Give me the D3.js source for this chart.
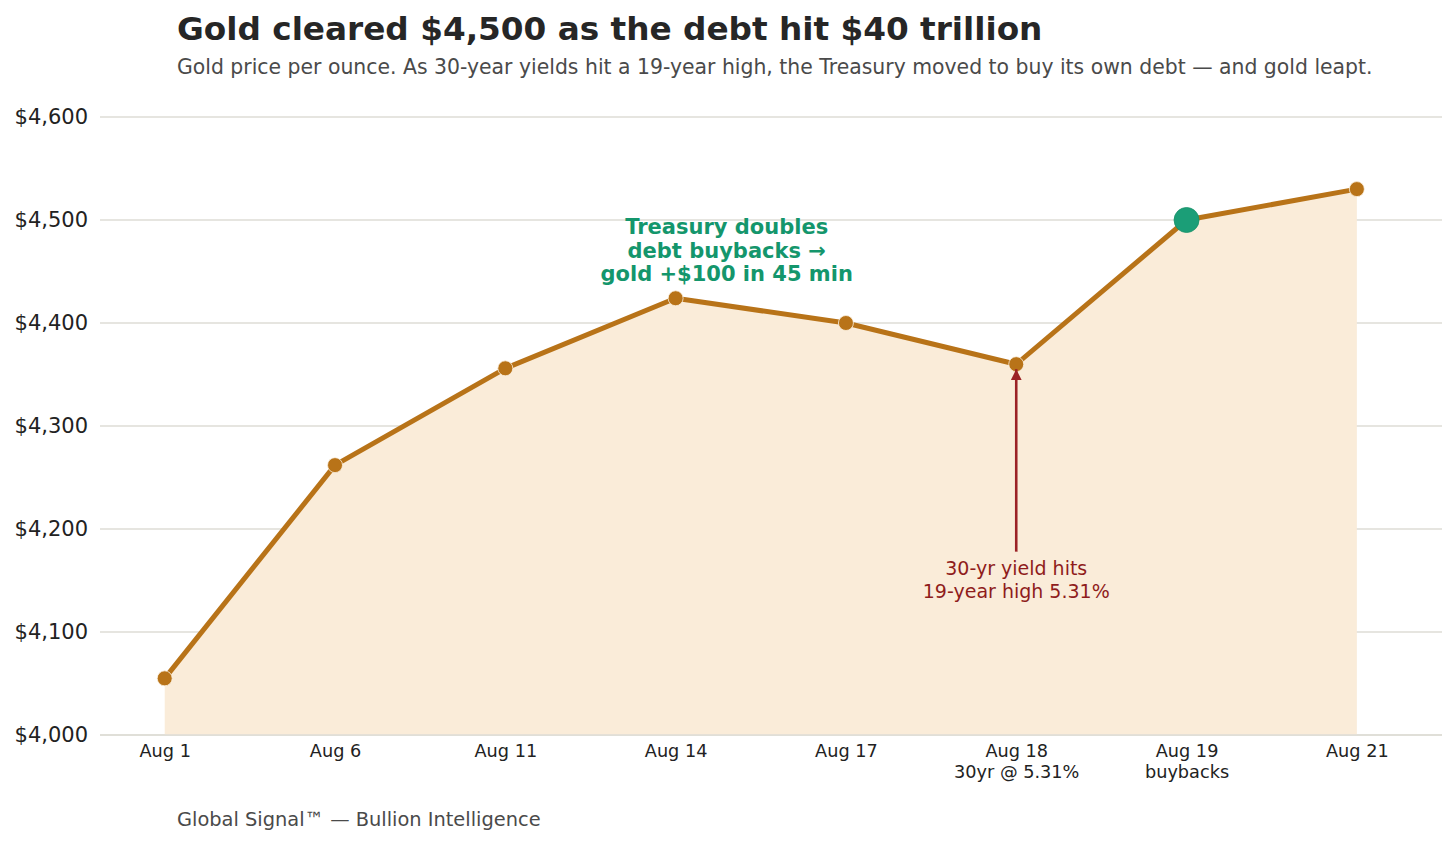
<!DOCTYPE html>
<html>
<head>
<meta charset="utf-8">
<script src="https://cdn.jsdelivr.net/npm/d3@7"></script>
<style>
  html, body { margin: 0; padding: 0; background: #fff; }
  svg { display: block; font-family: "DejaVu Sans", sans-serif; }
  svg text { font-family: "DejaVu Sans", sans-serif; }
</style>
</head>
<body>
<svg id="chart" width="1456" height="844"></svg>
<script>
// gold price per ounce, August
var dates = ["Aug 1", "Aug 6", "Aug 11", "Aug 14", "Aug 17", "Aug 18", "Aug 19", "Aug 21"];
var dateNotes = ["", "", "", "", "", "30yr @ 5.31%", "buybacks", ""];
var prices = [4055, 4262, 4356, 4424, 4400, 4360, 4500, 4530];
var yTicks = [4000, 4100, 4200, 4300, 4400, 4500, 4600];
var highlightIndex = 6;

var svg = d3.select("#chart");

var x = d3.scaleLinear().domain([-0.38, 7.5]).range([100, 1442]);
var y = d3.scaleLinear().domain([4000, 4600]).range([735, 117]);

var fmt = function(v) { return "$" + d3.format(",")(v); };

// gridlines
svg.append("g")
  .selectAll("line")
  .data(yTicks)
  .enter().append("line")
    .attr("x1", x.range()[0])
    .attr("x2", x.range()[1])
    .attr("y1", function(d) { return y(d); })
    .attr("y2", function(d) { return y(d); })
    .attr("stroke", "#dedcd6")
    .attr("stroke-width", 1.3);

// y labels
var yAxis = svg.append("g")
    .attr("transform", "translate(100,0)")
    .call(d3.axisLeft(y).tickValues(yTicks).tickFormat(fmt).tickSize(0).tickPadding(12));
yAxis.attr("font-family", null).attr("font-size", null);
yAxis.select(".domain").remove();
yAxis.selectAll("text")
    .attr("font-size", 21)
    .attr("fill", "#222");

var pts = prices.map(function(p, i) { return { i: i, v: p }; });

// shaded area under the line
svg.append("path")
    .datum(pts)
    .attr("fill", "#faecd9")
    .attr("d", d3.area()
      .x(function(d) { return x(d.i); })
      .y0(y(4000))
      .y1(function(d) { return y(d.v); }));

// baseline
svg.append("line")
    .attr("x1", x.range()[0]).attr("x2", x.range()[1])
    .attr("y1", y(4000)).attr("y2", y(4000))
    .attr("stroke", "#dedcd6")
    .attr("stroke-width", 1.3);

// x labels
var xAxis = svg.append("g")
    .attr("transform", "translate(0," + y(4000) + ")")
    .call(d3.axisBottom(x).tickValues(d3.range(dates.length))
      .tickFormat(function(d) { return dates[d]; }).tickSize(0).tickPadding(9));
xAxis.attr("font-family", null).attr("font-size", null);
xAxis.select(".domain").remove();
xAxis.selectAll("text")
    .attr("font-size", 17.7)
    .attr("fill", "#222");
xAxis.selectAll(".tick").filter(function(d) { return dateNotes[d] !== ""; })
  .append("text")
    .attr("y", 30.5)
    .attr("dy", "0.71em")
    .attr("text-anchor", "middle")
    .attr("font-size", 17.7)
    .attr("fill", "#222")
    .text(function(d) { return dateNotes[d]; });

// price line
svg.append("path")
    .datum(pts)
    .attr("fill", "none")
    .attr("stroke", "#b87318")
    .attr("stroke-width", 5)
    .attr("stroke-linejoin", "round")
    .attr("d", d3.line()
      .x(function(d) { return x(d.i); })
      .y(function(d) { return y(d.v); }));

svg.append("g")
  .selectAll("circle")
  .data(pts)
  .enter().append("circle")
    .attr("cx", function(d) { return x(d.i); })
    .attr("cy", function(d) { return y(d.v); })
    .attr("r", function(d) { return d.i === highlightIndex ? 12.5 : 7.5; })
    .attr("fill", function(d) { return d.i === highlightIndex ? "#1b9e77" : "#b87318"; })
    .attr("stroke", function(d) { return d.i === highlightIndex ? "#189068" : "#fbf1e2"; })
    .attr("stroke-width", 0.8);

// buyback annotation
var green = svg.append("text")
    .attr("x", x(3.3))
    .attr("text-anchor", "middle")
    .attr("font-size", 21)
    .attr("font-weight", "bold")
    .attr("fill", "#14966c");
["Treasury doubles", "debt buybacks \u2192", "gold +$100 in 45 min"].forEach(function(t, k) {
  green.append("tspan")
    .attr("x", x(3.3))
    .attr("y", y(4470) + (k - 1) * 23.5 + 7)
    .text(t);
});

// yield annotation
svg.append("defs").append("marker")
    .attr("id", "arrow")
    .attr("viewBox", "0 0 10 10")
    .attr("refX", 10).attr("refY", 5)
    .attr("markerWidth", 4.2).attr("markerHeight", 4.2)
    .attr("orient", "auto")
  .append("path")
    .attr("d", "M0,0L10,5L0,10z")
    .attr("fill", "#9b2226");

svg.append("line")
    .attr("x1", x(5)).attr("x2", x(5))
    .attr("y1", y(4178)).attr("y2", y(4360) + 5)
    .attr("stroke", "#9b2226")
    .attr("stroke-width", 2.6)
    .attr("marker-end", "url(#arrow)");

var red = svg.append("text")
    .attr("text-anchor", "middle")
    .attr("font-size", 19)
    .attr("fill", "#8f1c1c");
["30-yr yield hits", "19-year high 5.31%"].forEach(function(t, k) {
  red.append("tspan")
    .attr("x", x(5))
    .attr("y", y(4150) + (k - 0.5) * 22.5 + 6)
    .text(t);
});

// titles
svg.append("text")
    .attr("x", 177).attr("y", 40)
    .attr("font-size", 32.7)
    .attr("font-weight", "bold")
    .attr("fill", "#262626")
    .text("Gold cleared $4,500 as the debt hit $40 trillion");

svg.append("text")
    .attr("x", 177).attr("y", 74)
    .attr("font-size", 20.4)
    .attr("fill", "#4a4a4a")
    .text("Gold price per ounce. As 30-year yields hit a 19-year high, the Treasury moved to buy its own debt \u2014 and gold leapt.");

svg.append("text")
    .attr("x", 177).attr("y", 826)
    .attr("font-size", 19.4)
    .attr("fill", "#4a4a4a")
    .text("Global Signal\u2122 \u2014 Bullion Intelligence");
</script>
</body>
</html>
